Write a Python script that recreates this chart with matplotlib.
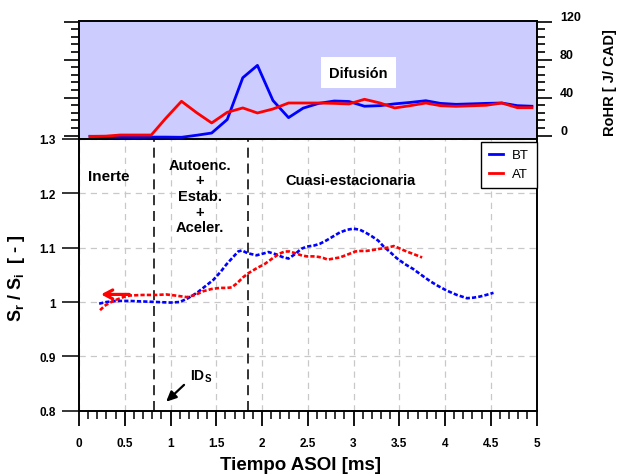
import matplotlib
matplotlib.use("Agg")
import matplotlib.pyplot as plt
from matplotlib.ticker import MultipleLocator
from matplotlib.lines import Line2D
from matplotlib.transforms import ScaledTranslation

plt.rcParams["font.family"] = ["Liberation Sans", "DejaVu Sans"]
plt.rcParams["mathtext.default"] = "regular"

# --- Normalised surface, BT and AT (main panel) ---
t_bt = [0.22, 0.30, 0.40, 0.55, 0.70, 0.85, 1.00, 1.10, 1.18, 1.29, 1.38, 1.47,
        1.55, 1.61, 1.68, 1.74, 1.78, 1.84, 1.94, 2.01, 2.07, 2.15, 2.22, 2.29,
        2.36, 2.43, 2.49, 2.57, 2.63, 2.70, 2.78, 2.85, 2.93, 3.00, 3.07, 3.14,
        3.20, 3.27, 3.33, 3.40, 3.47, 3.56, 3.65, 3.74, 3.84, 3.93, 4.02, 4.13,
        4.24, 4.31, 4.38, 4.45, 4.53]
s_bt = [0.997, 1.000, 1.002, 1.002, 1.001, 1.000, 0.999, 1.000, 1.006, 1.017, 1.029, 1.041,
        1.056, 1.069, 1.082, 1.093, 1.095, 1.090, 1.086, 1.089, 1.092, 1.088, 1.083, 1.080,
        1.088, 1.098, 1.102, 1.104, 1.107, 1.113, 1.121, 1.128, 1.133, 1.135, 1.133, 1.127,
        1.121, 1.113, 1.102, 1.092, 1.081, 1.070, 1.061, 1.050, 1.038, 1.029, 1.021, 1.013,
        1.007, 1.008, 1.010, 1.013, 1.017]

t_at = [0.23, 0.28, 0.34, 0.42, 0.50, 0.56, 0.70, 0.85, 0.95, 1.05, 1.18, 1.27,
        1.36, 1.45, 1.54, 1.62, 1.67, 1.73, 1.79, 1.85, 1.94, 2.03, 2.12, 2.19,
        2.25, 2.30, 2.36, 2.43, 2.49, 2.56, 2.62, 2.67, 2.72, 2.78, 2.85, 2.93,
        3.02, 3.08, 3.14, 3.22, 3.29, 3.37, 3.44, 3.50, 3.58, 3.66, 3.75]
s_at = [0.985, 0.993, 0.999, 1.005, 1.010, 1.012, 1.013, 1.013, 1.014, 1.012, 1.009, 1.013,
        1.020, 1.024, 1.026, 1.026, 1.027, 1.035, 1.045, 1.053, 1.062, 1.070, 1.081, 1.089,
        1.093, 1.093, 1.090, 1.086, 1.084, 1.084, 1.083, 1.081, 1.078, 1.080, 1.082, 1.087,
        1.093, 1.094, 1.094, 1.096, 1.098, 1.100, 1.103, 1.099, 1.093, 1.088, 1.082]

# --- Heat release rate (upper panel) ---
t_rohr = [0.12, 0.29, 0.45, 0.62, 0.79, 0.95, 1.12, 1.29, 1.45, 1.62, 1.79, 1.95,
          2.12, 2.29, 2.45, 2.62, 2.79, 2.95, 3.12, 3.29, 3.45, 3.62, 3.79, 3.95,
          4.12, 4.29, 4.45, 4.62, 4.79, 4.95]
rohr_bt = [-0.7, -1.0, -1.5, -1.7, -1.5, -1.5, -1.7, 0.5, 2.8, 17, 61, 74,
           37, 19, 29, 34, 36.5, 36, 31, 31.6, 33.5, 35, 36.8, 34,
           33, 33.5, 34, 34.4, 31.6, 31]
rohr_at = [-0.7, -0.5, 0.7, 0.7, 0.7, 18.5, 36.2, 23.9, 13.4, 24.6, 29.2, 23.9,
           28.1, 34.4, 34.4, 34.4, 34, 33.4, 38.3, 34.4, 29.2, 31.6, 34.4, 31.6,
           30.9, 31.5, 32, 34.4, 29.5, 29.5]

series_labels = ["BT", "AT"]
t_ignition = 0.82
t_end_premix = 1.845

BLUE = "#0000ff"
RED = "#ff0000"

fig = plt.figure(figsize=(6.18, 4.77), dpi=100)
W, H = 618, 477
left, right = 79 / W, 536.5 / W
ax = fig.add_axes([left, (H - 411.7) / H, right - left, (411.7 - 140) / H])
axr = fig.add_axes([left, (H - 140) / H, right - left, (140 - 22.3) / H])

# ---------------- main panel ----------------
dash = (0, (1.6, 0.8))
ax.plot(t_bt, s_bt, color=BLUE, lw=1.9, linestyle=dash, zorder=3)
ax.plot(t_at, s_at, color=RED, lw=1.9, linestyle=dash, zorder=3)

for tv in (t_ignition, t_end_premix):
    ax.axvline(tv, color="#111111", lw=1.2, linestyle=(0, (6, 3.5)), zorder=2)

ax.set_xlim(0, 5)
ax.set_ylim(0.8, 1.3)
ax.xaxis.set_major_locator(MultipleLocator(0.5))
ax.xaxis.set_minor_locator(MultipleLocator(0.1))
ax.yaxis.set_major_locator(MultipleLocator(0.1))
ax.set_xticks([0, 0.5, 1, 1.5, 2, 2.5, 3, 3.5, 4, 4.5, 5])
ax.set_xticklabels(["0", "0.5", "1", "1.5", "2", "2.5", "3", "3.5", "4", "4.5", "5"])
ax.set_yticks([0.8, 0.9, 1.0, 1.1, 1.2, 1.3])
ax.set_yticklabels(["0.8", "0.9", "1", "1.1", "1.2", "1.3"])
ax.tick_params(axis="x", which="major", direction="out", length=11, width=1.3,
               pad=8, labelsize=8.5)
ax.tick_params(axis="x", which="minor", direction="out", length=6, width=1.1)
ax.tick_params(axis="y", which="major", direction="out", length=12.5, width=1.1,
               pad=4, labelsize=8.5)
for lab in ax.get_xticklabels() + ax.get_yticklabels():
    lab.set_fontweight("bold")
ax.grid(True, which="major", color="#c8c8c8", lw=0.9, linestyle=(0, (5, 4)), zorder=0)
for sp in ax.spines.values():
    sp.set_linewidth(1.4)
ax.spines["top"].set_visible(False)

# phase labels
ax.text(0.32, 1.232, "Inerte", ha="center", va="center", fontsize=11, fontweight="bold")
ax.text(1.32, 1.195, "Autoenc.\n+\nEstab.\n+\nAceler.", ha="center", va="center",
        fontsize=10.5, fontweight="bold", linespacing=1.15)
ax.text(2.97, 1.224, "Cuasi-estacionaria", ha="center", va="center",
        fontsize=10.5, fontweight="bold")

# arrows
ax.annotate("", xy=(0.21, 1.014), xytext=(0.58, 1.014),
            arrowprops=dict(arrowstyle="->,head_length=0.6,head_width=0.32",
                            color=RED, lw=2.3), zorder=4)
ax.annotate("", xy=(0.93, 0.813), xytext=(1.17, 0.851),
            arrowprops=dict(arrowstyle="-|>,head_length=0.6,head_width=0.28",
                            color="black", lw=1.6))
ax.text(1.21, 0.849, "ID$_{S}$", ha="left", va="bottom", fontsize=10, fontweight="bold")

handles = [Line2D([], [], color=BLUE, lw=2), Line2D([], [], color=RED, lw=2)]
leg = ax.legend(handles, series_labels, loc="upper right",
                bbox_to_anchor=(1.0, 1 - 3 / 271.7),
                borderaxespad=0.0, fontsize=9.5, fancybox=False, framealpha=1,
                edgecolor="black", handlelength=1.1, handletextpad=0.7,
                borderpad=0.55, labelspacing=0.5)
leg.get_frame().set_linewidth(1.0)

# ---------------- heat release panel ----------------
axr.set_facecolor("#ccccff")
axr.plot(t_rohr, rohr_bt, color=BLUE, lw=2.0, zorder=3)
axr.plot(t_rohr, rohr_at, color=RED, lw=2.0, zorder=3)
axr.set_xlim(0, 5)
axr.set_ylim(-3.5, 120.4)
axr.set_xticks([])
axr.yaxis.set_major_locator(MultipleLocator(40))
axr.yaxis.set_minor_locator(MultipleLocator(8))
axr.set_yticks([0, 40, 80, 120])
axr.yaxis.set_ticks_position("both")
axr.tick_params(axis="y", which="major", direction="out", length=11, width=1.2,
                labelleft=False, labelright=True, pad=6, labelsize=9)
axr.tick_params(axis="y", which="minor", direction="out", length=5.5, width=1.2)
lift = ScaledTranslation(0, 6.5 / 100, fig.dpi_scale_trans)
for lab in axr.get_yticklabels():
    lab.set_fontweight("bold")
    lab.set_transform(lab.get_transform() + lift)
for sp in axr.spines.values():
    sp.set_linewidth(1.4)
axr.text(3.055, 66.5, "Difusión", ha="center", va="center", fontsize=10.5,
         fontweight="bold",
         bbox=dict(boxstyle="square,pad=0.55", facecolor="white", edgecolor="none"))

# axis titles
fig.text(301 / W, 1 - 466 / H, "Tiempo ASOI [ms]", ha="center", va="center",
         fontsize=13.5, fontweight="bold")
fig.text(17 / W, 1 - 278 / H, "S$_{r}$ / S$_{i}$  [ - ]", ha="center", va="center",
         rotation=90, fontsize=13, fontweight="bold")
fig.text(610 / W, 1 - 82.5 / H, "RoHR [ J/ CAD]", ha="center", va="center",
         rotation=90, fontsize=10.5, fontweight="bold")

fig.savefig("out.png", dpi=100)
